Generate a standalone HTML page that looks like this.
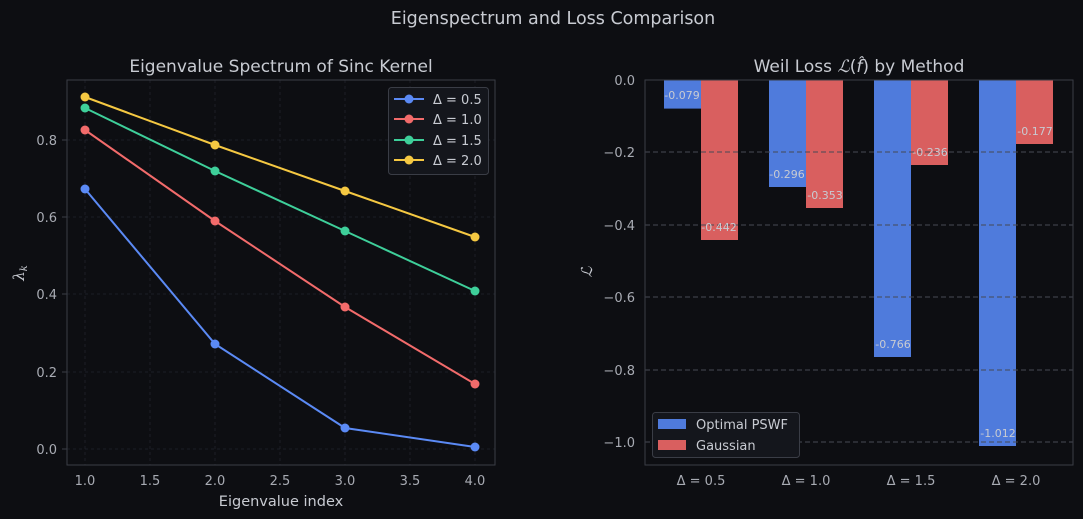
<!DOCTYPE html>
<html><head><meta charset="utf-8"><style>
body{margin:0;background:#0d0e12;}
svg{display:block;font-family:"DejaVu Sans","Liberation Sans",sans-serif;}
</style></head><body>
<svg width="1083" height="519" viewBox="0 0 1083 519">
<rect width="1083" height="519" fill="#0d0e12"/>
<text x="553" y="24" fill="#c8cbd2" font-size="17.5" text-anchor="middle">Eigenspectrum and Loss Comparison</text>

<!-- LEFT -->
<text x="281" y="72" fill="#c8cbd2" font-size="17" text-anchor="middle">Eigenvalue Spectrum of Sinc Kernel</text>
<g stroke="#22252c" stroke-dasharray="3,3" stroke-width="0.8">
<line x1="85" y1="80" x2="85" y2="465"/><line x1="150" y1="80" x2="150" y2="465"/><line x1="215" y1="80" x2="215" y2="465"/><line x1="280" y1="80" x2="280" y2="465"/><line x1="345" y1="80" x2="345" y2="465"/><line x1="410" y1="80" x2="410" y2="465"/><line x1="475" y1="80" x2="475" y2="465"/>
<line x1="67" y1="449" x2="495" y2="449"/><line x1="67" y1="372" x2="495" y2="372"/><line x1="67" y1="294" x2="495" y2="294"/><line x1="67" y1="217" x2="495" y2="217"/><line x1="67" y1="140" x2="495" y2="140"/>
</g>
<rect x="67" y="80" width="428" height="385" fill="none" stroke="#3a3d46"/>
<g fill="#a8abb3" font-size="13" text-anchor="middle">
<text x="85" y="485">1.0</text><text x="150" y="485">1.5</text><text x="215" y="485">2.0</text><text x="280" y="485">2.5</text><text x="345" y="485">3.0</text><text x="410" y="485">3.5</text><text x="475" y="485">4.0</text>
</g>
<g fill="#a8abb3" font-size="13" text-anchor="end">
<text x="57" y="454">0.0</text><text x="57" y="377">0.2</text><text x="57" y="299">0.4</text><text x="57" y="222">0.6</text><text x="57" y="145">0.8</text>
</g>
<g stroke="#3a3d46"><line x1="62" y1="449" x2="67" y2="449"/><line x1="62" y1="372" x2="67" y2="372"/><line x1="62" y1="294" x2="67" y2="294"/><line x1="62" y1="217" x2="67" y2="217"/><line x1="62" y1="140" x2="67" y2="140"/></g>
<text x="281" y="506" fill="#c8cbd2" font-size="14.5" text-anchor="middle">Eigenvalue index</text>
<text x="24" y="273" fill="#c8cbd2" font-size="15" font-family="DejaVu Serif" font-style="italic" transform="rotate(-90 24 273)" text-anchor="middle">λ<tspan font-size="10" dy="3">k</tspan></text>
<g stroke-width="2" fill="none">
<polyline stroke="#5b8af5" points="85,189 215,344 345,428 475,447"/>
<polyline stroke="#f26b6b" points="85,130 215,221 345,307 475,384"/>
<polyline stroke="#3ecf9a" points="85,108 215,171 345,231 475,291"/>
<polyline stroke="#f5c842" points="85,97 215,145 345,191 475,237"/>
</g>
<g fill="#5b8af5"><circle cx="85" cy="189" r="4.5"/><circle cx="215" cy="344" r="4.5"/><circle cx="345" cy="428" r="4.5"/><circle cx="475" cy="447" r="4.5"/></g>
<g fill="#f26b6b"><circle cx="85" cy="130" r="4.5"/><circle cx="215" cy="221" r="4.5"/><circle cx="345" cy="307" r="4.5"/><circle cx="475" cy="384" r="4.5"/></g>
<g fill="#3ecf9a"><circle cx="85" cy="108" r="4.5"/><circle cx="215" cy="171" r="4.5"/><circle cx="345" cy="231" r="4.5"/><circle cx="475" cy="291" r="4.5"/></g>
<g fill="#f5c842"><circle cx="85" cy="97" r="4.5"/><circle cx="215" cy="145" r="4.5"/><circle cx="345" cy="191" r="4.5"/><circle cx="475" cy="237" r="4.5"/></g>
<rect x="388.5" y="87.5" width="100" height="87" rx="3" fill="#14161c" stroke="#3a3d46"/>
<g stroke-width="2">
<line x1="394" y1="99" x2="424" y2="99" stroke="#5b8af5"/><circle cx="409" cy="99" r="4.5" fill="#5b8af5"/>
<line x1="394" y1="119" x2="424" y2="119" stroke="#f26b6b"/><circle cx="409" cy="119" r="4.5" fill="#f26b6b"/>
<line x1="394" y1="140" x2="424" y2="140" stroke="#3ecf9a"/><circle cx="409" cy="140" r="4.5" fill="#3ecf9a"/>
<line x1="394" y1="160" x2="424" y2="160" stroke="#f5c842"/><circle cx="409" cy="160" r="4.5" fill="#f5c842"/>
</g>
<g fill="#c8cbd2" font-size="13"><text x="433" y="104">Δ = 0.5</text><text x="433" y="124">Δ = 1.0</text><text x="433" y="145">Δ = 1.5</text><text x="433" y="165">Δ = 2.0</text></g>

<!-- RIGHT -->
<text x="859" y="72" fill="#c8cbd2" font-size="17" text-anchor="middle">Weil Loss <tspan font-family="DejaVu Serif" font-style="italic">ℒ</tspan>(<tspan font-style="italic">f̂</tspan>) by Method</text>
<g fill="#4f7bdc">
<rect x="664" y="80" width="37" height="28.6"/><rect x="769" y="80" width="37" height="107"/><rect x="874" y="80" width="37" height="277"/><rect x="979" y="80" width="37" height="366"/>
</g>
<g fill="#d95f5f">
<rect x="701" y="80" width="37" height="160"/><rect x="806" y="80" width="37" height="128"/><rect x="911" y="80" width="37" height="85"/><rect x="1016" y="80" width="37" height="64"/>
</g>
<g stroke="#464a54" stroke-dasharray="5,3" stroke-width="0.9">
<line x1="645" y1="152" x2="1073" y2="152"/><line x1="645" y1="225" x2="1073" y2="225"/><line x1="645" y1="297" x2="1073" y2="297"/><line x1="645" y1="370" x2="1073" y2="370"/><line x1="645" y1="442" x2="1073" y2="442"/>
</g>
<rect x="645" y="80" width="428" height="385" fill="none" stroke="#3a3d46"/>
<g fill="#c8cbd2" font-size="11" text-anchor="middle">
<text x="682" y="99">-0.079</text><text x="719" y="231">-0.442</text>
<text x="787" y="178">-0.296</text><text x="825" y="199">-0.353</text>
<text x="893" y="348">-0.766</text><text x="930" y="156">-0.236</text>
<text x="998" y="437">-1.012</text><text x="1035" y="135">-0.177</text>
</g>
<g fill="#a8abb3" font-size="13" text-anchor="end">
<text x="635" y="85">0.0</text><text x="635" y="157">−0.2</text><text x="635" y="230">−0.4</text><text x="635" y="302">−0.6</text><text x="635" y="375">−0.8</text><text x="635" y="447">−1.0</text>
</g>
<g fill="#a8abb3" font-size="13" text-anchor="middle">
<text x="701" y="485">Δ = 0.5</text><text x="806" y="485">Δ = 1.0</text><text x="911" y="485">Δ = 1.5</text><text x="1016" y="485">Δ = 2.0</text>
</g>
<text x="592" y="272" fill="#c8cbd2" font-size="15" font-family="DejaVu Serif" font-style="italic" transform="rotate(-90 592 272)" text-anchor="middle">ℒ</text>
<rect x="652.5" y="412.5" width="147" height="45" rx="3" fill="#14161c" stroke="#3a3d46"/>
<rect x="658" y="419" width="28" height="10" fill="#4f7bdc"/>
<rect x="658" y="440" width="28" height="10" fill="#d95f5f"/>
<g fill="#c8cbd2" font-size="13"><text x="696" y="429">Optimal PSWF</text><text x="696" y="450">Gaussian</text></g>
</svg>
</body></html>
